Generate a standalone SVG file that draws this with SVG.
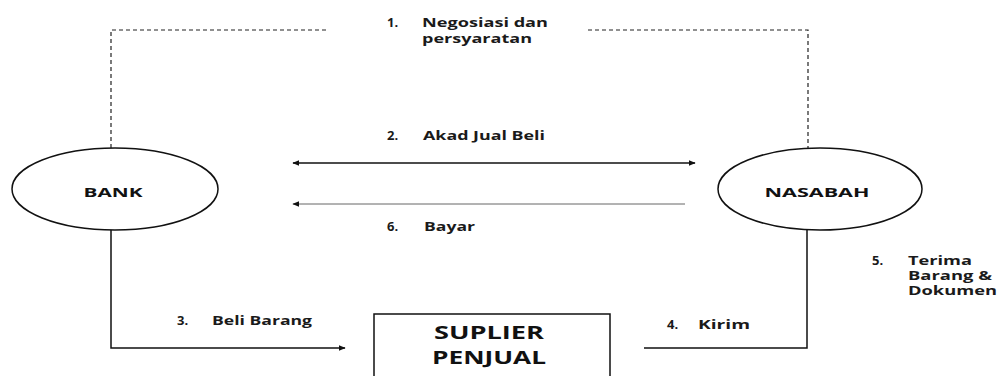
<svg xmlns="http://www.w3.org/2000/svg" width="1001" height="376" viewBox="0 0 1001 376">
<style>
.lbl{font-family:"Open Sans","Liberation Sans",sans-serif;font-weight:bold;font-size:11.5px;fill:#1a1a1a}
.num{font-family:"Open Sans","Liberation Sans",sans-serif;font-weight:bold;font-size:13px;fill:#1a1a1a}
.node{font-family:"Open Sans","Liberation Sans",sans-serif;font-weight:bold;fill:#111}
.dash{fill:none;stroke:#222;stroke-width:1.2;stroke-dasharray:4 3}
.solid{fill:none;stroke:#111;stroke-width:1.5}
.thin{fill:none;stroke:#666;stroke-width:1}
.shape{fill:#fff;stroke:#111;stroke-width:1.5}
</style>
<defs>
<marker id="ah" viewBox="0 0 10 10" refX="9" refY="5" markerWidth="7" markerHeight="7" orient="auto-start-reverse" markerUnits="userSpaceOnUse">
<path d="M0,1 L10,5 L0,9 z" fill="#111"/>
</marker>
</defs>
<rect width="1001" height="376" fill="#fff"/>
<g id="connectors">
<path class="dash" d="M111,148 V30 H328"/>
<path class="dash" d="M588,30 H808 V148"/>
<line class="solid" x1="293" y1="163" x2="695" y2="163" marker-start="url(#ah)" marker-end="url(#ah)"/>
<line class="thin" x1="685" y1="204" x2="293" y2="204" marker-end="url(#ah)"/>
<path class="solid" d="M111,229 V348 H345" marker-end="url(#ah)"/>
<path class="solid" d="M807,229 V348 H644"/>
</g>
<g id="labels">
<text class="num" x="387" y="27">1.</text>
<text class="lbl" x="422" y="27" textLength="126" lengthAdjust="spacingAndGlyphs">Negosiasi dan</text>
<text class="lbl" x="422" y="43" textLength="110" lengthAdjust="spacingAndGlyphs">persyaratan</text>
<text class="num" x="387" y="140">2.</text>
<text class="lbl" x="423" y="140" textLength="122" lengthAdjust="spacingAndGlyphs">Akad Jual Beli</text>
<text class="num" x="387" y="231">6.</text>
<text class="lbl" x="424" y="231" textLength="51" lengthAdjust="spacingAndGlyphs">Bayar</text>
<text class="num" x="177" y="325">3.</text>
<text class="lbl" x="212" y="325" textLength="100" lengthAdjust="spacingAndGlyphs">Beli Barang</text>
<text class="num" x="667" y="329">4.</text>
<text class="lbl" x="698" y="329" textLength="52" lengthAdjust="spacingAndGlyphs">Kirim</text>
<text class="num" x="872" y="265">5.</text>
<text class="lbl" x="908" y="265" textLength="64" lengthAdjust="spacingAndGlyphs">Terima</text>
<text class="lbl" x="908" y="280" textLength="84" lengthAdjust="spacingAndGlyphs">Barang &amp;</text>
<text class="lbl" x="908" y="295" textLength="89" lengthAdjust="spacingAndGlyphs">Dokumen</text>
</g>
<g id="bank">
<ellipse class="shape" cx="115" cy="189" rx="103" ry="41"/>
<text class="node" x="113" y="197" font-size="13" text-anchor="middle" textLength="59" lengthAdjust="spacingAndGlyphs">BANK</text>
</g>
<g id="nasabah">
<ellipse class="shape" cx="820" cy="189" rx="102" ry="41"/>
<text class="node" x="817" y="197" font-size="13" text-anchor="middle" textLength="105" lengthAdjust="spacingAndGlyphs">NASABAH</text>
</g>
<g id="suplier">
<rect class="shape" x="374" y="314" width="236" height="70"/>
<text class="node" x="489" y="339" font-size="18" text-anchor="middle" textLength="110" lengthAdjust="spacingAndGlyphs">SUPLIER</text>
<text class="node" x="489" y="364" font-size="18" text-anchor="middle" textLength="114" lengthAdjust="spacingAndGlyphs">PENJUAL</text>
</g>
</svg>
